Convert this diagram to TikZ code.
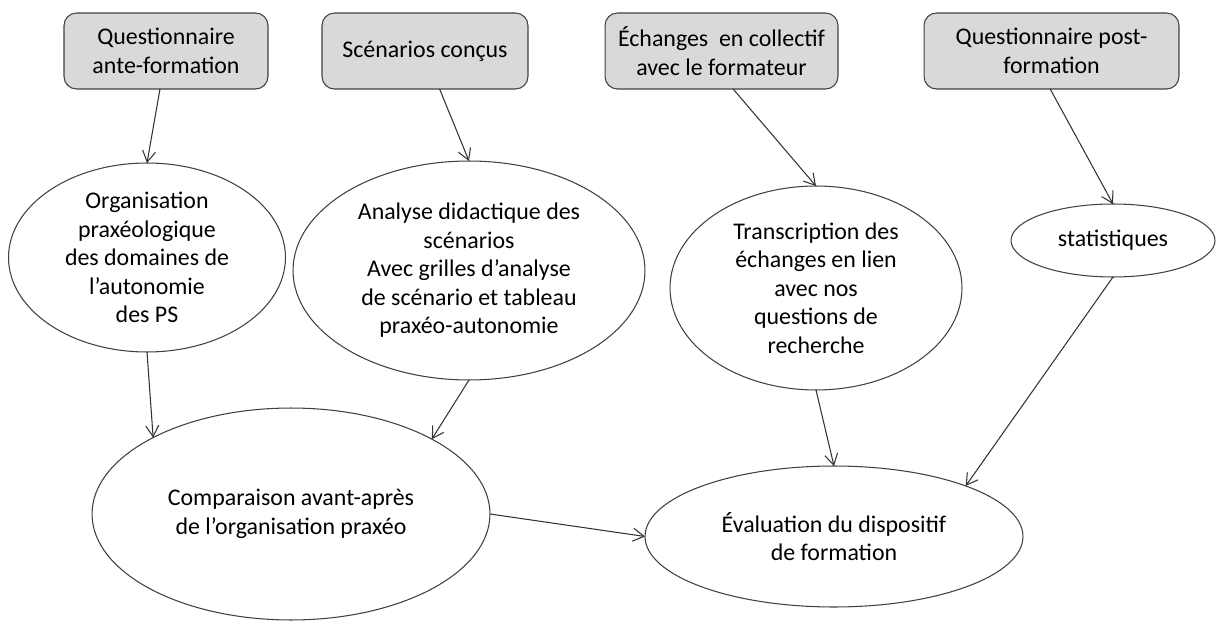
\documentclass[tikz,border=0pt]{standalone}
\usepackage{fontspec}
\setmainfont{Carlito}
\usetikzlibrary{shapes.geometric,arrows.meta}

\begin{document}
\begin{tikzpicture}[x=0.02cm,y=-0.02cm,
        font=\fontsize{13.6}{16.2}\selectfont,
        source/.style={draw=black!75,fill=black!15,rounded corners=0.25cm,line width=0.6pt,
            minimum height=1.52cm,outer sep=0pt,align=center},
        oval/.style={draw=black!75,ellipse,line width=0.6pt,inner sep=0pt,outer sep=0pt},
        txt/.style={align=center},
        link/.style={draw=black!80,line width=0.6pt,-{Straight Barb[length=2.2mm,width=2.6mm]}}]
            \useasboundingbox (0,0) rectangle (1216,621);
            % sources
            \node[source,minimum width=4.08cm] (qante) at (166,51) {Questionnaire\\ante-formation};
            \node[source,minimum width=4.12cm] (scen) at (425,51) {Scénarios conçus};
            \node[source,minimum width=4.66cm] (echg) at (721.5,51) {Échanges~ en collectif\\avec le formateur};
            \node[source,minimum width=5.10cm] (qpost) at (1051.5,51) {Questionnaire post-\\formation};
            % analyses
            \node[oval,minimum width=5.54cm,minimum height=3.78cm,
                label={[txt]center:{Organisation\\praxéologique\\des domaines de\\l’autonomie\\des PS}}] (orga) at (147,257.5) {};
            \node[oval,minimum width=7.04cm,minimum height=4.38cm,
                label={[txt]center:{Analyse didactique des\\scénarios\\Avec grilles d’analyse\\de scénario et tableau\\praxéo-autonomie}}] (anal) at (469,270.5) {};
            \node[oval,minimum width=5.84cm,minimum height=4.08cm,
                label={[txt]center:{Transcription des\\échanges en lien\\avec nos\\questions de\\recherche}}] (trans) at (816,288) {};
            \node[oval,minimum width=4.08cm,minimum height=1.46cm,
                label={[txt]center:statistiques}] (stat) at (1113,240.5) {};
            % results
            \node[oval,minimum width=7.96cm,minimum height=4.24cm,
                label={[txt]center:{Comparaison avant-après\\de l’organisation praxéo}}] (comp) at (291,514) {};
            \node[oval,minimum width=7.56cm,minimum height=2.82cm,
                label={[txt]center:{Évaluation du dispositif\\de formation}}] (eval) at (834,536.5) {};
            % arrows
            \draw[link] (qante.261) -- (orga.north);
            \draw[link] (scen.291) -- (anal.north);
            \draw[link] (echg.287) -- (trans.north);
            \draw[link] (qpost.268) -- (stat.north);
            \draw[link] (orga.south) -- (comp.151.5);
            \draw[link] (anal.south) -- (comp.28.3);
            \draw[link] (comp.east) -- (eval.west);
            \draw[link] (trans.south) -- (eval.north);
            \draw[link] (stat.south) -- (eval.21.2);
        \end{tikzpicture}
\end{document}
